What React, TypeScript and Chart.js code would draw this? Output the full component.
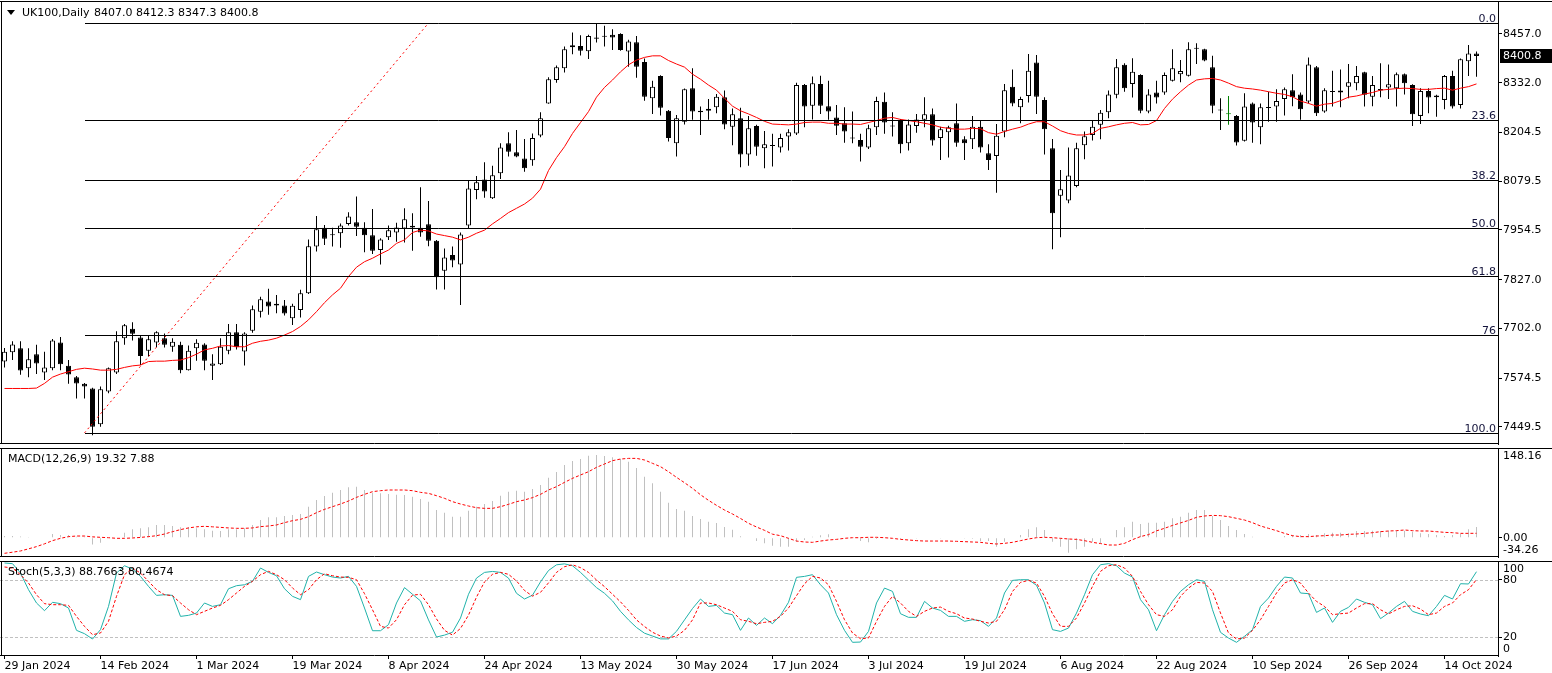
import React, { useEffect, useRef } from "react";
import { Chart, registerables } from "chart.js";

Chart.register(...registerables);

const FONT = "'DejaVu Sans', sans-serif";

// ---------------- data ----------------
const symbolTitle = "UK100,Daily";
const xTickLabels = [
  "29 Jan 2024", "14 Feb 2024", "1 Mar 2024", "19 Mar 2024", "8 Apr 2024", "24 Apr 2024",
  "13 May 2024", "30 May 2024", "17 Jun 2024", "3 Jul 2024", "19 Jul 2024", "6 Aug 2024",
  "22 Aug 2024", "10 Sep 2024", "26 Sep 2024", "14 Oct 2024",
];
const barsPerTickLabel = 12;

const opens = [
  7617, 7641, 7651, 7600, 7636, 7589, 7600, 7666, 7606, 7577,
  7560, 7548, 7456, 7540, 7589, 7677, 7701, 7679, 7645, 7666,
  7677, 7655, 7660, 7595, 7651, 7661, 7606, 7610, 7645, 7692,
  7643, 7696, 7745, 7771, 7765, 7761, 7728, 7749, 7792, 7912,
  7960, 7942, 7946, 7970, 7974, 7960, 7941, 7903, 7936, 7948,
  7958, 7965, 7960, 7969, 7927, 7850, 7890, 7866, 7966, 8057,
  8084, 8036, 8100, 8177, 8154, 8138, 8133, 8197, 8279, 8339,
  8369, 8423, 8426, 8413, 8448, 8450, 8455, 8457, 8412, 8436,
  8385, 8292, 8349, 8260, 8177, 8232, 8318, 8260, 8260, 8269,
  8295, 8219, 8241, 8148, 8221, 8164, 8172, 8166, 8194, 8202,
  8326, 8273, 8329, 8272, 8243, 8228, 8190, 8185, 8166, 8218,
  8283, 8222, 8237, 8177, 8221, 8237, 8251, 8190, 8205, 8228,
  8187, 8187, 8219, 8151, 8144, 8207, 8322, 8269, 8298, 8384,
  8288, 8164, 8042, 8030, 8067, 8172, 8198, 8224, 8256, 8301,
  8378, 8329, 8352, 8258, 8307, 8307, 8337, 8354, 8350, 8421,
  8418, 8372, 8263, 8253, 8247, 8183, 8279, 8218, 8267, 8271,
  8290, 8313, 8302, 8284, 8372, 8258, 8310, 8307, 8322, 8331,
  8359, 8296, 8312, 8320, 8318, 8354, 8326, 8247, 8311, 8299,
  8288, 8349, 8275, 8387, 8407.0,
];
const highs = [
  7652, 7669, 7669, 7651, 7660, 7642, 7675, 7680, 7621, 7580,
  7562, 7550, 7553, 7602, 7695, 7713, 7718, 7685, 7683, 7695,
  7689, 7677, 7668, 7658, 7674, 7664, 7636, 7677, 7713, 7713,
  7692, 7761, 7783, 7804, 7788, 7775, 7765, 7801, 7930, 7990,
  7967, 7960, 7971, 8000, 8040, 7974, 8008, 7933, 7966, 7973,
  8010, 7997, 8064, 8029, 7929, 7907, 7912, 7948, 8080, 8093,
  8128, 8119, 8177, 8205, 8211, 8188, 8202, 8256, 8346, 8376,
  8425, 8461, 8454, 8455, 8484, 8478, 8469, 8459, 8442, 8452,
  8394, 8337, 8351, 8262, 8249, 8317, 8369, 8271, 8290, 8303,
  8312, 8266, 8268, 8247, 8224, 8208, 8201, 8201, 8213, 8332,
  8329, 8348, 8350, 8337, 8275, 8269, 8258, 8201, 8224, 8296,
  8307, 8256, 8239, 8238, 8252, 8295, 8266, 8219, 8222, 8279,
  8195, 8247, 8235, 8174, 8226, 8329, 8366, 8296, 8406, 8403,
  8295, 8188, 8108, 8166, 8178, 8207, 8234, 8262, 8312, 8393,
  8382, 8395, 8354, 8315, 8337, 8358, 8418, 8390, 8436, 8433,
  8419, 8401, 8292, 8298, 8249, 8305, 8281, 8279, 8309, 8315,
  8320, 8354, 8307, 8397, 8375, 8318, 8363, 8366, 8380, 8375,
  8360, 8349, 8382, 8379, 8358, 8356, 8328, 8318, 8318, 8301,
  8352, 8363, 8394, 8429, 8412.3,
];
const lows = [
  7602, 7621, 7583, 7577, 7585, 7570, 7595, 7595, 7560, 7522,
  7522, 7428, 7450, 7536, 7585, 7660, 7671, 7608, 7630, 7654,
  7653, 7642, 7587, 7594, 7619, 7595, 7570, 7608, 7636, 7648,
  7607, 7691, 7730, 7737, 7741, 7735, 7711, 7730, 7790, 7899,
  7916, 7912, 7909, 7966, 7939, 7897, 7893, 7866, 7929, 7924,
  7922, 7901, 7937, 7913, 7802, 7802, 7859, 7762, 7959, 8033,
  8037, 8034, 8085, 8143, 8141, 8104, 8119, 8192, 8278, 8332,
  8358, 8405, 8402, 8393, 8435, 8425, 8416, 8414, 8373, 8345,
  8286, 8252, 8248, 8181, 8143, 8225, 8237, 8198, 8237, 8254,
  8213, 8172, 8115, 8119, 8145, 8113, 8117, 8153, 8158, 8198,
  8218, 8238, 8252, 8237, 8198, 8178, 8177, 8130, 8162, 8198,
  8201, 8194, 8151, 8158, 8204, 8218, 8171, 8134, 8140, 8168,
  8134, 8162, 8153, 8108, 8050, 8192, 8272, 8228, 8281, 8252,
  8148, 7905, 7936, 8023, 8064, 8136, 8184, 8187, 8241, 8292,
  8309, 8294, 8254, 8254, 8279, 8301, 8335, 8333, 8348, 8380,
  8387, 8254, 8211, 8224, 8171, 8181, 8178, 8174, 8232, 8232,
  8248, 8272, 8237, 8279, 8247, 8255, 8271, 8269, 8292, 8313,
  8271, 8272, 8295, 8290, 8271, 8302, 8221, 8226, 8254, 8245,
  8264, 8266, 8266, 8349, 8347.3,
];
const closes = [
  7642, 7661, 7594, 7623, 7612, 7602, 7671, 7610, 7584, 7561,
  7553, 7450, 7546, 7600, 7669, 7710, 7688, 7631, 7674, 7692,
  7660, 7668, 7595, 7645, 7665, 7619, 7612, 7655, 7692, 7654,
  7689, 7751, 7777, 7758, 7761, 7740, 7760, 7792, 7913, 7956,
  7932, 7941, 7966, 7989, 7963, 7941, 7901, 7930, 7954, 7961,
  7982, 7961, 7948, 7927, 7833, 7884, 7876, 7943, 8061, 8077,
  8053, 8095, 8166, 8155, 8143, 8113, 8190, 8241, 8341, 8372,
  8418, 8428, 8414, 8452, 8445, 8451, 8448, 8416, 8438, 8373,
  8296, 8322, 8268, 8190, 8241, 8315, 8258, 8256, 8265, 8296,
  8225, 8251, 8148, 8215, 8168, 8174, 8170, 8190, 8205, 8326,
  8271, 8331, 8273, 8258, 8222, 8207, 8189, 8168, 8215, 8285,
  8230, 8220, 8174, 8225, 8238, 8251, 8184, 8213, 8218, 8178,
  8177, 8219, 8166, 8134, 8196, 8313, 8279, 8290, 8363, 8296,
  8213, 7997, 8059, 8094, 8164, 8195, 8219, 8255, 8302, 8372,
  8318, 8360, 8260, 8302, 8294, 8352, 8369, 8362, 8418, 8419,
  8389, 8273, 8261, 8251, 8179, 8271, 8230, 8269, 8270, 8285,
  8315, 8295, 8264, 8379, 8254, 8313, 8308, 8312, 8333, 8349,
  8301, 8326, 8316, 8328, 8354, 8331, 8251, 8311, 8294, 8295,
  8349, 8271, 8392, 8407, 8400.8,
];
const movingAverage = [
  7548, 7548, 7548, 7548, 7549, 7561, 7577, 7585, 7591, 7597,
  7600, 7598, 7595, 7595, 7597, 7602, 7606, 7608, 7617, 7618,
  7618, 7620, 7621, 7627, 7636, 7647, 7651, 7657, 7658, 7655,
  7655, 7664, 7669, 7672, 7677, 7685, 7694, 7707, 7724, 7745,
  7768, 7788, 7805, 7835, 7859, 7873, 7882, 7893, 7903, 7920,
  7929, 7948, 7954, 7952, 7944, 7940, 7936, 7929, 7936, 7946,
  7954, 7970, 7984, 7999, 8010, 8021, 8036, 8059, 8107, 8140,
  8168, 8202, 8230, 8258, 8295, 8320, 8339, 8360, 8378, 8390,
  8397, 8401, 8401, 8389, 8380, 8372, 8354, 8341, 8326, 8313,
  8292, 8272, 8260, 8252, 8243, 8233, 8226, 8225, 8224, 8226,
  8230, 8231, 8231, 8228, 8228, 8226, 8226, 8225, 8230, 8235,
  8241, 8243, 8238, 8235, 8232, 8228, 8224, 8218, 8215, 8213,
  8213, 8215, 8214, 8204, 8200, 8207, 8213, 8218, 8226, 8232,
  8232, 8221, 8209, 8202, 8198, 8198, 8202, 8215, 8219, 8224,
  8228, 8230, 8224, 8225, 8235, 8266, 8290, 8309, 8326, 8339,
  8342, 8343, 8339, 8331, 8322, 8318, 8316, 8313, 8309, 8305,
  8302, 8296, 8285, 8279, 8272, 8277, 8279, 8286, 8295, 8298,
  8303, 8307, 8313, 8315, 8317, 8318, 8317, 8315, 8315, 8317,
  8318, 8313, 8318, 8322, 8329,
];
const macdMain = [
  3, 3, 2, 0.5, 1, 1, 6.6, 4.8, 4.8, 1.9,
  1.9, -12, -9, 1, 1, 9, 15, 16.8, 18.6, 22.8,
  22.8, 21, 18.6, 18.6, 16.8, 15, 12.6, 12, 15, 15,
  16.8, 22.8, 31.7, 36.5, 36.5, 38.9, 40.7, 42.5, 55.6, 67.6,
  74.7, 80.7, 85.5, 90.3, 91.5, 85.5, 80.7, 79.5, 78.3, 77,
  76.5, 73.5, 69.4, 64.6, 49.6, 44.9, 37.7, 37.7, 48.4, 55.6,
  60.4, 65.8, 75.3, 82.5, 84.3, 82.5, 87.3, 94.4, 107.6, 117.7,
  130.3, 137.5, 141, 147, 148.16, 146.4, 144, 141, 136.3, 124.9,
  109.4, 97.4, 82.5, 62.8, 51.4, 48.4, 38.9, 33.5, 28.8, 26.5,
  19.2, 14.4, 2.5, 0, -6, -10, -14.5, -16.1, -16.1, -7.1,
  -4.1, 1.9, 4.2, 6, 0, -1.1, -1.1, -5.9, -8.3, -2.3,
  0, -1.1, -2.3, -1, -0.5, 0, -1, -1.5, -1, -1,
  -1.5, -2, -5.9, -5.9, -16.1, -7.1, 0, 4.8, 15, 18.6,
  13.8, -7.1, -16.1, -26.8, -20.9, -16.1, -7.1, -10.1, 0, 13.8,
  18.6, 28.8, 24.6, 26.9, 26.9, 28.8, 34.7, 37.7, 44.9, 49.6,
  49.6, 38.9, 31.7, 21, 13.8, 6.6, 1.9, 0, 0.7, 0,
  3, 4.8, 4.8, 6.6, 4.8, 7.8, 9, 9, 7.8, 12,
  12, 12.6, 12, 12.6, 12.6, 12.6, 10.8, 7.8, 6.6, 4.8,
  3, 4.8, 6.6, 15, 19.32,
];
const macdSignal = [
  -28, -26, -23.8, -20, -16, -11, -5.3, -1.1, 1.9, 3,
  3, 1.5, 0.7, 0, -1.1, -1.1, -0.5, 0.5, 1.9, 3.6,
  6.6, 10.8, 14.5, 17.5, 19.5, 20.4, 19.5, 18.5, 17.5, 16.8,
  16.8, 17.5, 19.8, 21, 22.8, 27, 30.5, 32.9, 37.7, 44.9,
  50.8, 55.6, 60.4, 65.8, 72.3, 77.7, 82.5, 84.3, 85.5, 85.5,
  85.5, 84.3, 81.3, 79.5, 75.3, 70.6, 64.6, 60.4, 56.8, 53.8,
  52.6, 52.6, 55.6, 59.8, 64.6, 67.6, 71.8, 77.7, 85.5, 91.5,
  99.2, 106.4, 112.4, 118.3, 126.1, 132.1, 138.1, 141, 142.2, 142.2,
  139.3, 133.3, 127.3, 118.3, 108.2, 98.6, 88.5, 77, 67, 58,
  49.6, 42.5, 34.5, 25.8, 19.2, 13.2, 6.3, 3.6, -1.1, -6,
  -7.7, -8.3, -6, -4.1, -3, -1.1, 0, 0, 0.7, 0.7,
  0, -1.1, -3, -4.1, -5.3, -6, -6, -6, -6, -6.5,
  -7.1, -7.7, -8.3, -10.1, -11.3, -10.1, -8.3, -5.3, -2.3, 0,
  0.7, 0, -1.1, -2.3, -3, -5.3, -8.3, -10.5, -13.1, -13.1,
  -10.1, -3.5, 2, 5.5, 12.3, 16.8, 22, 26.5, 31, 36.5,
  38.9, 40, 39.5, 37.7, 34.7, 31.7, 26.9, 21, 16.8, 12.6,
  7.8, 3.6, 1.9, 1.9, 3, 3.6, 4.8, 4.8, 6, 6.6,
  7.8, 9, 10.8, 12, 12.6, 13.8, 12.6, 12, 12, 10.8,
  9.6, 9, 7.8, 7.8, 7.88,
];
const stochK = [
  97.9, 97.2, 87.3, 69.8, 55.8, 47.7, 56.5, 55.1, 50.5, 27,
  23.5, 17.9, 27.7, 52.2, 87.3, 95, 91.5, 83.8, 73.3, 63.8,
  64.5, 63.8, 41.7, 42.8, 45.2, 55.8, 52.2, 54, 70.8, 74,
  75, 78.6, 92.6, 88, 84.5, 70.8, 62.8, 59.3, 83.8, 88.4,
  85.6, 83.1, 82.1, 83.8, 73.3, 50.5, 26.6, 26.6, 33, 55.8,
  72, 65, 58, 38, 20, 22, 25, 40, 65, 82,
  88, 89, 88, 82, 66, 60, 64, 78, 90, 96,
  97, 95, 88, 80, 72, 66, 58, 47, 38, 30,
  24, 21, 18, 18, 26, 38, 50, 60, 52.2, 53.3,
  45.2, 43.5, 27, 40, 32.2, 40, 34, 42.8, 56.5, 82.8,
  83.8, 85.6, 75, 66.3, 43.5, 27, 14.4, 14.7, 25.9, 55.8,
  71.5, 68, 44.5, 40.7, 40.7, 57.5, 50.5, 48, 41.7, 41.7,
  36.5, 38.2, 37.2, 31.2, 40, 66.3, 79.6, 80.3, 80.3, 74.4,
  55.8, 27.7, 25.9, 29.4, 45.2, 64.5, 85.6, 96.1, 97.2, 95,
  87.3, 83.1, 59.3, 48.7, 26.6, 43.5, 57.5, 68, 75, 80.3,
  78.6, 48.7, 24.9, 18.9, 14.4, 20.7, 27.7, 52.2, 61, 73.3,
  83.1, 82.1, 66.3, 65.6, 45.9, 50.5, 35.4, 47, 51.2, 60,
  56.5, 54, 39.3, 45.2, 52.2, 57.5, 47, 44.2, 42.4, 52.2,
  63.8, 60, 76.1, 75.8, 88.7663,
];
const stochD = [
  93.7, 92.6, 85.6, 76.8, 64.5, 55.1, 54, 54, 53.3, 41.7,
  31.2, 22.4, 24.2, 36.5, 62.8, 85.6, 92.6, 87.3, 78.6, 69.8,
  64.5, 63.5, 55.8, 48.7, 43.5, 47, 50.5, 53.3, 59.3, 66.3,
  73.3, 78.6, 85.6, 89.1, 85.6, 80.3, 71.6, 64.5, 69.8, 80.3,
  86.6, 84.5, 83.1, 82.8, 80.3, 65.6, 48.7, 31.2, 29.4, 38.2,
  54, 64, 65, 54, 39, 27, 22, 29, 43, 62,
  78, 86, 88, 86, 79, 69, 63, 67, 77, 88,
  94, 96, 93, 88, 80, 73, 65, 57, 48, 38,
  31, 25, 21, 19, 21, 27, 38, 55.8, 55.8, 54,
  50.5, 47, 38.2, 36.5, 34, 35.4, 36.5, 41.7, 50.5, 63.5,
  76.1, 83.8, 82.1, 75, 57.5, 38.2, 24.2, 18.2, 18.9, 36.5,
  52.2, 62.8, 55.8, 47, 41.7, 47, 50.5, 51.5, 47, 44.5,
  40, 38.9, 36.5, 34.7, 36.5, 48.7, 68, 77.5, 79.6, 76.8,
  62.8, 44.5, 31.2, 31.2, 40, 55.8, 73.3, 89.1, 95, 96.1,
  92.6, 83.8, 68, 54, 43.5, 41.7, 48.7, 62.8, 71.5, 77.5,
  76.8, 68, 45.2, 24.2, 17.9, 18.9, 27, 38.2, 52.2, 66.3,
  76.8, 80.3, 76.8, 66.3, 57.5, 52.2, 43.5, 44.5, 45.2, 50.5,
  55.1, 55.1, 48.7, 44.2, 48.7, 52.2, 52.9, 49.4, 43.5, 45.2,
  52.2, 55.8, 64.5, 69.8, 80.4674,
];
const highlightBar = 153;

const fibHigh = 8485;
const fibLow = 7434;
const fibStartBar = 10;
const fibEndBar = 53;
const fibLevels = [0, 23.6, 38.2, 50, 61.8, 76, 100];
const fibLabels = ["0.0", "23.6", "38.2", "50.0", "61.8", "76", "100.0"];

const priceTicks = [8457.0, 8332.0, 8204.5, 8079.5, 7954.5, 7827.0, 7702.0, 7574.5, 7449.5];
const macdTicks = [148.16, 0, -34.26];
const stochTicks = [100, 80, 20, 0];
const stochLevels = [80, 20];

// ---------------- layout constants ----------------
const PLOT_RIGHT = 1498;
const AXIS_W = 54;
const BAR_PX = 8;
const X_MIN = -0.5625;
const X_MAX = X_MIN + PLOT_RIGHT / BAR_PX;
const MAIN_MIN = 7405.6;
const MAIN_MAX = 8541.6;
const MACD_MIN = -34.6;
const MACD_MAX = 160.8;

const GREEN = "#008000";
const RED = "#ff0000";
const TEAL = "#20b2aa";
const HIST = "#c0c0c0";

const idx = closes.map((_, i) => i);

function xScale(show: boolean): any {
  const s: any = {
    type: "linear",
    min: X_MIN,
    max: X_MAX,
    offset: false,
    display: show,
    grid: { display: false, offset: false },
    border: { display: false },
    ticks: { display: false },
  };
  if (show) {
    s.afterBuildTicks = (sc: any) => {
      sc.ticks = xTickLabels.map((_, k) => ({ value: k * barsPerTickLabel }));
    };
    s.afterFit = (sc: any) => {
      sc.height = 17;
      sc.paddingLeft = 0;
      sc.paddingRight = 0;
    };
    s.ticks = {
      display: true,
      autoSkip: false,
      maxRotation: 0,
      minRotation: 0,
      align: "start",
      padding: 1,
      color: "#000",
      font: { family: FONT, size: 11 },
      callback: (v: number) => xTickLabels[Math.round(v / barsPerTickLabel)],
    };
    s.grid = { display: true, drawOnChartArea: false, drawTicks: true, tickLength: 3, color: "#000", offset: false };
  }
  return s;
}

function yScale(min: number, max: number, ticks: number[], showLabels: boolean, fmt: (v: number) => string): any {
  return {
    type: "linear",
    position: "right",
    min,
    max,
    afterFit: (sc: any) => {
      sc.width = AXIS_W;
      sc.paddingTop = 0;
      sc.paddingBottom = 0;
    },
    afterBuildTicks: (sc: any) => {
      sc.ticks = ticks.map((v) => ({ value: v }));
    },
    ticks: {
      display: showLabels,
      autoSkip: false,
      padding: 1,
      color: "#000",
      font: { family: FONT, size: 11 },
      callback: (v: number) => fmt(Number(v)),
    },
    grid: { display: true, drawOnChartArea: false, drawTicks: true, tickLength: 4, color: "#000" },
    border: { display: true, color: "#000", width: 1 },
  };
}

const framePlugin = (topFull: boolean) => ({
  id: "frame",
  afterDraw(chart: any) {
    const { ctx, chartArea: a, width } = chart;
    ctx.save();
    ctx.strokeStyle = "#000";
    ctx.lineWidth = 1;
    ctx.beginPath();
    ctx.moveTo(0, a.top + 0.5);
    ctx.lineTo(topFull ? width : a.right, a.top + 0.5);
    ctx.moveTo(0, a.bottom - 0.5);
    ctx.lineTo(a.right, a.bottom - 0.5);
    ctx.moveTo(a.left + 1.5, a.top);
    ctx.lineTo(a.left + 1.5, a.bottom);
    ctx.stroke();
    ctx.restore();
  },
});

function drawSideLabels(chart: any, values: number[], fmt: (v: number) => string) {
  const { ctx, chartArea: a, scales } = chart;
  ctx.save();
  ctx.font = `11px ${FONT}`;
  ctx.fillStyle = "#000";
  ctx.textAlign = "left";
  ctx.textBaseline = "middle";
  values.forEach((v) => {
    let py = scales.y.getPixelForValue(v);
    py = Math.min(Math.max(py, a.top + 8), a.bottom - 7);
    ctx.fillText(fmt(v), a.right + 5, py);
  });
  ctx.restore();
}

function baseOptions(padTop: number, padBottom: number): any {
  return {
    responsive: false,
    maintainAspectRatio: false,
    animation: false,
    devicePixelRatio: 1,
    events: [],
    layout: { padding: { top: padTop, bottom: padBottom, left: 0, right: 0 } },
    plugins: { legend: { display: false }, tooltip: { enabled: false }, title: { display: false } },
  };
}

function mainConfig(): any {
  const bodyFill = idx.map((i) => (i === highlightBar ? GREEN : closes[i] >= opens[i] ? "#ffffff" : "#000000"));
  const bodyBorder = idx.map((i) => (i === highlightBar ? GREEN : "#000000"));
  const last = closes.length - 1;
  const extras = {
    id: "mainExtras",
    afterDatasetsDraw(chart: any) {
      const { ctx, chartArea: a, scales } = chart;
      ctx.save();
      ctx.strokeStyle = "#000";
      ctx.lineWidth = 1;
      ctx.font = `11px ${FONT}`;
      ctx.textAlign = "right";
      ctx.textBaseline = "alphabetic";
      ctx.fillStyle = "#14143c";
      const x0 = Math.round(scales.x.getPixelForValue(fibStartBar));
      fibLevels.forEach((pct, k) => {
        const v = fibHigh - ((fibHigh - fibLow) * pct) / 100;
        const py = Math.round(scales.y.getPixelForValue(v)) + 0.5;
        ctx.beginPath();
        ctx.moveTo(x0, py);
        ctx.lineTo(a.right, py);
        ctx.stroke();
        ctx.fillText(fibLabels[k], a.right - 2, py - 2);
      });
      ctx.restore();
    },
    afterDraw(chart: any) {
      const { ctx, chartArea: a, scales } = chart;
      ctx.save();
      // current price box
      const py = Math.round(scales.y.getPixelForValue(closes[last]));
      ctx.fillStyle = "#000";
      ctx.fillRect(a.right + 2, py - 7, AXIS_W - 2, 14);
      ctx.fillStyle = "#fff";
      ctx.font = `11px ${FONT}`;
      ctx.textAlign = "left";
      ctx.textBaseline = "middle";
      ctx.fillText(closes[last].toFixed(1), a.right + 5, py);
      // header
      ctx.fillStyle = "#000";
      ctx.beginPath();
      ctx.moveTo(7, 10);
      ctx.lineTo(15, 10);
      ctx.lineTo(11, 15);
      ctx.closePath();
      ctx.fill();
      ctx.fillText(symbolTitle, 22, 13);
      ctx.fillText(
        [opens[last], highs[last], lows[last], closes[last]].map((v) => v.toFixed(1)).join(" "),
        94,
        13
      );
      ctx.restore();
    },
  };
  return {
    type: "bar",
    data: {
      datasets: [
        {
          type: "line",
          data: [
            { x: fibStartBar, y: fibLow },
            { x: fibEndBar, y: fibHigh },
          ],
          borderColor: RED,
          borderWidth: 1,
          borderDash: [2, 3],
          pointRadius: 0,
          order: 0,
        },
        {
          type: "line",
          data: idx.map((i) => ({ x: i, y: movingAverage[i] })),
          borderColor: RED,
          borderWidth: 1,
          pointRadius: 0,
          tension: 0,
          order: 1,
        },
        {
          type: "bar",
          data: idx.map((i) => ({ x: i, y: [opens[i], closes[i]] })),
          backgroundColor: bodyFill,
          borderColor: bodyBorder,
          borderWidth: 1,
          borderSkipped: false,
          minBarLength: 1,
          grouped: false,
          barPercentage: 1,
          categoryPercentage: 1,
          maxBarThickness: 5,
          inflateAmount: 0,
          order: 2,
        },
        {
          type: "bar",
          data: idx.map((i) => ({ x: i, y: [lows[i], highs[i]] })),
          backgroundColor: bodyBorder,
          borderWidth: 0,
          grouped: false,
          barPercentage: 1,
          categoryPercentage: 1,
          maxBarThickness: 1,
          inflateAmount: 0,
          order: 3,
        },
      ],
    },
    options: {
      ...baseOptions(1, 1),
      scales: {
        x: xScale(false),
        y: yScale(MAIN_MIN, MAIN_MAX, priceTicks, true, (v) => v.toFixed(1)),
      },
    },
    plugins: [extras, framePlugin(true)],
  };
}

function macdConfig(): any {
  const last = macdMain.length - 1;
  const extras = {
    id: "macdExtras",
    afterDraw(chart: any) {
      const { ctx } = chart;
      drawSideLabels(chart, macdTicks, (v) => v.toFixed(2));
      ctx.save();
      ctx.font = `11px ${FONT}`;
      ctx.fillStyle = "#000";
      ctx.textAlign = "left";
      ctx.textBaseline = "middle";
      ctx.fillText(`MACD(12,26,9) ${macdMain[last].toFixed(2)} ${macdSignal[last].toFixed(2)}`, 8, chart.chartArea.top + 11);
      ctx.restore();
    },
  };
  return {
    type: "bar",
    data: {
      datasets: [
        {
          type: "line",
          data: idx.map((i) => ({ x: i, y: macdSignal[i] })),
          borderColor: RED,
          borderWidth: 1,
          borderDash: [3, 2],
          pointRadius: 0,
          order: 0,
        },
        {
          type: "bar",
          data: idx.map((i) => ({ x: i, y: macdMain[i] })),
          backgroundColor: HIST,
          borderWidth: 0,
          grouped: false,
          barPercentage: 1,
          categoryPercentage: 1,
          maxBarThickness: 1,
          inflateAmount: 0,
          order: 1,
        },
      ],
    },
    options: {
      ...baseOptions(3, 1),
      scales: {
        x: xScale(false),
        y: yScale(MACD_MIN, MACD_MAX, [0], false, (v) => v.toFixed(2)),
      },
    },
    plugins: [extras, framePlugin(true)],
  };
}

function stochConfig(): any {
  const last = stochK.length - 1;
  const extras = {
    id: "stochExtras",
    beforeDatasetsDraw(chart: any) {
      const { ctx, chartArea: a, scales } = chart;
      ctx.save();
      ctx.strokeStyle = HIST;
      ctx.lineWidth = 1;
      ctx.setLineDash([3, 2]);
      stochLevels.forEach((lv) => {
        const py = Math.round(scales.y.getPixelForValue(lv)) + 0.5;
        ctx.beginPath();
        ctx.moveTo(a.left, py);
        ctx.lineTo(a.right, py);
        ctx.stroke();
      });
      ctx.restore();
    },
    afterDraw(chart: any) {
      const { ctx } = chart;
      drawSideLabels(chart, stochTicks, (v) => String(v));
      ctx.save();
      ctx.font = `11px ${FONT}`;
      ctx.fillStyle = "#000";
      ctx.textAlign = "left";
      ctx.textBaseline = "middle";
      ctx.fillText(`Stoch(5,3,3) ${stochK[last].toFixed(4)} ${stochD[last].toFixed(4)}`, 8, chart.chartArea.top + 11);
      ctx.restore();
    },
  };
  return {
    type: "line",
    data: {
      datasets: [
        {
          data: idx.map((i) => ({ x: i, y: stochD[i] })),
          borderColor: RED,
          borderWidth: 1,
          borderDash: [3, 2],
          pointRadius: 0,
          order: 0,
        },
        {
          data: idx.map((i) => ({ x: i, y: stochK[i] })),
          borderColor: TEAL,
          borderWidth: 1,
          pointRadius: 0,
          order: 1,
        },
      ],
    },
    options: {
      ...baseOptions(3, 0),
      scales: {
        x: xScale(true),
        y: yScale(0, 100, stochLevels, false, (v) => String(v)),
      },
    },
    plugins: [extras, framePlugin(true)],
  };
}

export default function App() {
  const mainRef = useRef<HTMLCanvasElement>(null);
  const macdRef = useRef<HTMLCanvasElement>(null);
  const stochRef = useRef<HTMLCanvasElement>(null);

  useEffect(() => {
    const charts = [
      new Chart(mainRef.current as HTMLCanvasElement, mainConfig()),
      new Chart(macdRef.current as HTMLCanvasElement, macdConfig()),
      new Chart(stochRef.current as HTMLCanvasElement, stochConfig()),
    ];
    return () => charts.forEach((c) => c.destroy());
  }, []);

  const cv = (top: number, h: number): React.CSSProperties => ({
    position: "absolute",
    left: 0,
    top,
    width: 1552,
    height: h,
    display: "block",
  });

  return (
    <div style={{ position: "absolute", left: 0, top: 0, width: 1552, height: 673, background: "#fff", overflow: "hidden" }}>
      <canvas ref={mainRef} width={1552} height={445} style={cv(0, 445)} />
      <canvas ref={macdRef} width={1552} height={113} style={cv(445, 113)} />
      <canvas ref={stochRef} width={1552} height={115} style={cv(558, 115)} />
    </div>
  );
}
